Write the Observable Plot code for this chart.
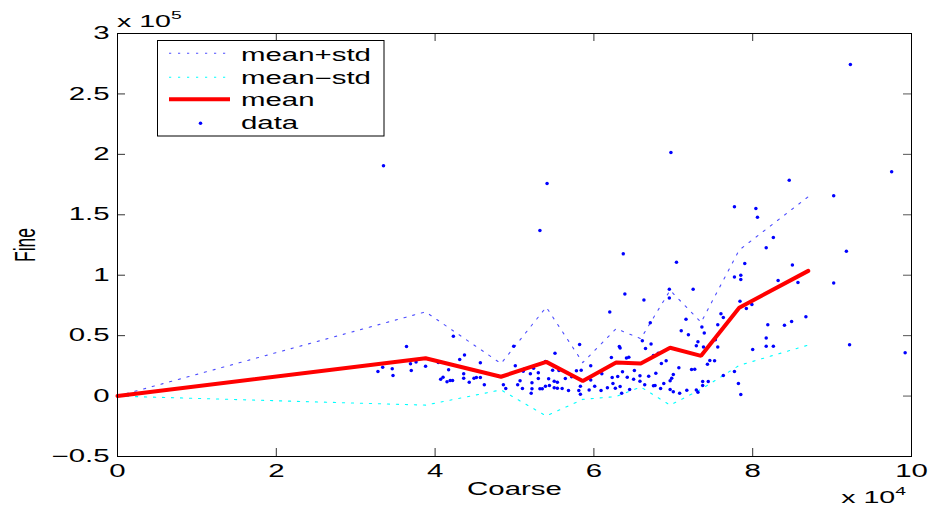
<!DOCTYPE html>
<html>
<head>
<meta charset="utf-8">
<script src="https://cdn.jsdelivr.net/npm/d3@7"></script>
<script src="https://cdn.jsdelivr.net/npm/@observablehq/plot@0.6"></script>
<style>
  html, body { margin: 0; padding: 0; background: #fff; }
  #chart { width: 934px; height: 512px; }
</style>
</head>
<body>
<div id="chart"></div>
<script>
// Coarse in units of 1e4, Fine in units of 1e5
const meanCoarse = [0, 3.88, 4.83, 5.40, 5.86, 6.28, 6.59, 6.96, 7.35, 7.83, 8.70];
const meanFine   = [0, 0.313, 0.160, 0.283, 0.125, 0.277, 0.269, 0.400, 0.333, 0.731, 1.036];
const plusFine   = [0, 0.697, 0.269, 0.736, 0.277, 0.558, 0.475, 0.875, 0.610, 1.208, 1.650];
const minusFine  = [0, -0.075, 0.051, -0.165, -0.027, -0.004, 0.075, -0.075, 0.056, 0.254, 0.422];

const dataPoints = [
  [3.35,1.905],[3.64,0.411],[3.28,0.203],[3.34,0.239],[3.46,0.226],[3.47,0.170],[3.69,0.267],[3.70,0.212],
  [3.76,0.281],[3.88,0.247],[4.04,0.278],[4.07,0.139],[4.10,0.156],[4.15,0.118],[4.19,0.129],[4.22,0.129],
  [4.17,0.217],[4.23,0.494],[4.31,0.303],[4.37,0.339],[4.36,0.184],[4.36,0.148],[4.43,0.115],[4.49,0.148],
  [4.52,0.154],[4.57,0.154],[4.57,0.276],[4.62,0.093],
  [4.86,0.093],[4.89,0.062],[5.01,0.251],[4.99,0.413],[5.04,0.093],[5.07,0.126],[5.10,0.062],[5.11,0.206],
  [5.13,0.226],[5.20,0.184],[5.22,0.110],[5.22,0.060],[5.21,0.023],[5.24,0.231],[5.30,0.193],[5.30,0.145],
  [5.32,0.060],[5.35,0.060],[5.32,1.371],[5.41,1.758],[5.39,0.286],[5.43,0.143],[5.39,0.081],[5.44,0.087],
  [5.48,0.214],[5.51,0.355],[5.56,0.212],[5.50,0.123],[5.54,0.115],[5.50,0.068],[5.54,0.065],[5.60,0.062],
  [5.64,0.145],[5.72,0.159],[5.68,0.046],[5.78,0.209],[5.82,0.427],[5.81,0.046],[5.83,0.081],[5.83,0.015],
  [5.84,0.214],[5.96,0.251],[5.96,0.134],[5.94,0.051],[6.01,0.081],[6.09,0.046],[6.10,0.184],
  [6.17,0.068],[6.20,0.696],[6.22,0.320],[6.23,0.154],[6.24,0.105],[6.27,0.065],[6.30,0.162],[6.32,0.411],
  [6.33,0.397],[6.33,0.079],[6.35,0.023],[6.36,0.201],[6.37,1.177],[6.39,0.845],[6.41,0.314],[6.44,0.322],
  [6.42,0.156],[6.45,0.054],[6.50,0.139],[6.51,0.212],[6.58,0.123],[6.58,0.168],[6.61,0.458],[6.63,0.795],
  [6.64,0.093],[6.65,0.394],[6.69,0.164],[6.71,0.607],[6.72,0.430],[6.75,0.336],[6.75,0.085],[6.77,0.087],
  [6.78,0.189],[6.81,0.355],[6.84,0.062],[6.85,0.270],[6.88,0.104],[6.91,0.292],[6.95,0.884],[6.95,0.812],
  [6.96,0.126],[6.96,0.054],[6.97,2.015],[6.98,0.148],[7.00,0.178],[7.00,0.035],[7.04,1.108],[7.07,0.234],
  [7.08,0.023],[7.10,0.541],[7.16,0.635],[7.17,0.048],[7.19,0.508],[7.23,0.220],[7.25,0.884],[7.27,0.222],
  [7.29,0.417],[7.29,0.051],[7.31,0.450],[7.31,0.032],[7.36,0.571],[7.37,0.120],[7.37,0.087],[7.38,0.406],
  [7.39,0.521],[7.43,0.264],[7.44,0.120],[7.46,0.295],[7.52,0.292],[7.53,0.466],[7.56,0.591],[7.56,0.405],
  [7.60,0.682],[7.63,0.651],[7.63,0.170],[7.77,1.567],[7.77,0.985],[7.77,0.203],[7.82,0.104],[7.84,0.784],
  [7.85,1.000],[7.85,0.964],[7.85,0.012],[7.90,1.097],[7.92,0.724],[7.99,0.757],[8.00,0.386],[8.04,1.553],
  [8.06,1.479],[8.17,1.227],[8.17,0.480],[8.17,0.413],[8.19,0.591],[8.26,1.313],[8.26,0.413],[8.32,0.956],
  [8.40,0.585],[8.46,1.786],[8.49,0.618],[8.50,1.085],[8.57,0.939],[8.67,0.657],[9.02,1.658],[9.02,0.936],
  [9.18,1.199],[9.22,0.425],[9.23,2.743],[9.75,1.857],[9.92,0.358]
];

const xTicks = [0, 2, 4, 6, 8, 10];
const yTicks = [-0.5, 0, 0.5, 1, 1.5, 2, 2.5, 3];
const xLabel = "Coarse";
const yLabel = "Fine";
const xExponent = "4";
const yExponent = "5";
const legendLabels = ["mean+std", "mean\u2212std", "mean", "data"];

// ---- layout / style ----
const W = 934, H = 512;
const mL = 117, mR = 23, mT = 33, mB = 56;
const innerW = W - mL - mR, innerH = H - mT - mB;
const tickLen = 8;
const FONT = "'Liberation Sans', Arial, Helvetica, sans-serif";
const STRETCH = 1.68;
const DOTTED = "2.2,6.8";
const DOT_OPACITY = 0.7;

const idx = d3.range(meanCoarse.length);
const fmtY = d => d < 0 ? "\u2212" + (-d) : String(d);

const chart = Plot.plot({
  width: W, height: H,
  marginLeft: mL, marginRight: mR, marginTop: mT, marginBottom: mB,
  x: {domain: [0, 10]},
  y: {domain: [-0.5, 3]},
  style: {fontFamily: FONT, fontSize: "17.5px", color: "black", background: "white", overflow: "visible"},
  marks: [
    // inward ticks on all four sides
    Plot.tickX(xTicks, {x: d => d, insetTop: innerH - tickLen, stroke: "#333", strokeWidth: 1}),
    Plot.tickX(xTicks, {x: d => d, insetBottom: innerH - tickLen, stroke: "#333", strokeWidth: 1}),
    Plot.tickY(yTicks, {y: d => d, insetRight: innerW - tickLen, stroke: "#333", strokeWidth: 1}),
    Plot.tickY(yTicks, {y: d => d, insetLeft: innerW - tickLen, stroke: "#555", strokeWidth: 1}),
    Plot.axisX({ticks: xTicks, tickSize: 0, tickPadding: 8, label: null, tickFormat: d => String(d)}),
    Plot.axisY({ticks: yTicks, tickSize: 0, tickPadding: 8, label: null, tickFormat: fmtY}),
    Plot.line(idx, {x: i => meanCoarse[i], y: i => plusFine[i], stroke: "#0000ff", strokeOpacity: DOT_OPACITY, strokeWidth: 1.1, strokeDasharray: DOTTED}),
    Plot.line(idx, {x: i => meanCoarse[i], y: i => minusFine[i], stroke: "#00ffff", strokeWidth: 1.1, strokeDasharray: DOTTED}),
    Plot.dot(dataPoints, {x: d => d[0], y: d => d[1], r: 1.75, fill: "#0000ff", stroke: "none"}),
    Plot.line(idx, {x: i => meanCoarse[i], y: i => meanFine[i], stroke: "#ff0000", strokeWidth: 4, strokeLinejoin: "miter"}),
    Plot.frame({stroke: "black", strokeWidth: 1}),
    Plot.text([xLabel], {frameAnchor: "bottom", dy: 33, lineAnchor: "middle", textAnchor: "middle", fontSize: 17.5}),
    Plot.text([yLabel], {frameAnchor: "left", dx: -92, rotate: -90, lineAnchor: "middle", textAnchor: "middle", fontSize: 17.5})
  ]
});
document.getElementById("chart").append(chart);

const svg = d3.select(chart);

// exponent labels
function exponentLabel(x, y, anchor, exp) {
  const t = svg.append("text")
    .attr("x", x).attr("y", y)
    .attr("text-anchor", anchor)
    .attr("font-family", FONT).attr("font-size", 17)
    .attr("fill", "black");
  t.append("tspan").text("x 10");
  t.append("tspan").attr("dy", -8).attr("font-size", 11.5).text(exp);
  return t;
}
exponentLabel(117, 27, "start", yExponent);
exponentLabel(906, 503, "end", xExponent);

// legend
const lg = svg.append("g");
lg.append("rect")
  .attr("x", 157.5).attr("y", 40.5).attr("width", 226.5).attr("height", 95.5)
  .attr("fill", "white").attr("stroke", "black").attr("stroke-width", 1);
const rowLine = [53.3, 77.3, 99.3, 123.3];
const rowText = [61, 84, 106, 128.5];
lg.append("line").attr("x1", 169).attr("x2", 230).attr("y1", rowLine[0]).attr("y2", rowLine[0])
  .attr("stroke", "#0000ff").attr("stroke-opacity", DOT_OPACITY).attr("stroke-width", 1.1).attr("stroke-dasharray", DOTTED);
lg.append("line").attr("x1", 169).attr("x2", 230).attr("y1", rowLine[1]).attr("y2", rowLine[1])
  .attr("stroke", "#00ffff").attr("stroke-width", 1.1).attr("stroke-dasharray", DOTTED);
lg.append("line").attr("x1", 169).attr("x2", 230).attr("y1", rowLine[2]).attr("y2", rowLine[2])
  .attr("stroke", "#ff0000").attr("stroke-width", 4);
lg.append("circle").attr("cx", 200.5).attr("cy", rowLine[3]).attr("r", 1.75).attr("fill", "#0000ff");
legendLabels.forEach((s, i) => {
  lg.append("text").attr("x", 241).attr("y", rowText[i])
    .attr("text-anchor", "start")
    .attr("font-family", FONT).attr("font-size", 17.5).attr("fill", "black").text(s);
});

// horizontal stretch of text (the reference is horizontally stretched)
svg.selectAll("text").each(function() {
  if (this.textContent === yLabel) {
    const tr = this.getAttribute("transform") || "";
    this.setAttribute("transform", tr + " scale(1," + STRETCH + ")");
    return;
  }
  const L = this.getComputedTextLength();
  if (L > 0) {
    this.setAttribute("textLength", (L * STRETCH).toFixed(2));
    this.setAttribute("lengthAdjust", "spacingAndGlyphs");
  }
});
</script>
</body>
</html>
